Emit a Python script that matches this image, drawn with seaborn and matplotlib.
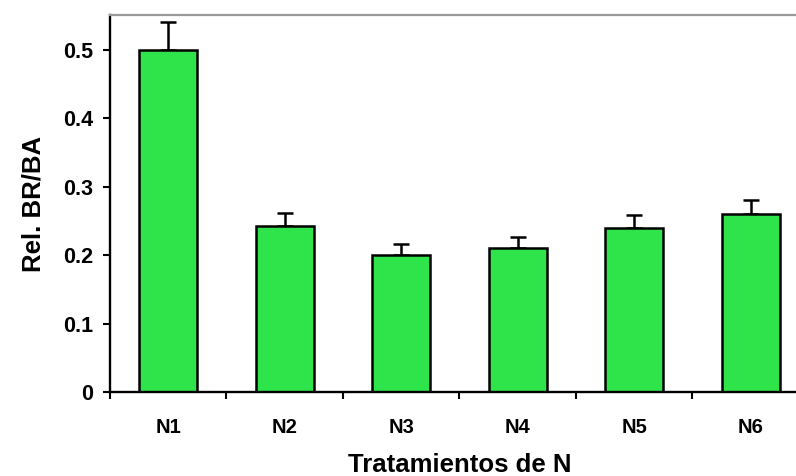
import matplotlib
matplotlib.use("Agg")
import matplotlib.pyplot as plt
import seaborn as sns
import pandas as pd
import numpy as np
from matplotlib.ticker import FixedLocator

# Relación biomasa radical / biomasa aérea por tratamiento de N
tratamientos = ["N1", "N2", "N3", "N4", "N5", "N6"]
rel_br_ba = [0.50, 0.243, 0.200, 0.210, 0.239, 0.260]
error_std = [0.041, 0.019, 0.016, 0.017, 0.020, 0.020]
yticks = [0, 0.1, 0.2, 0.3, 0.4, 0.5]
ytick_labels = ["0", "0.1", "0.2", "0.3", "0.4", "0.5"]

sns.set_theme(style="white")
plt.rcParams["font.family"] = ["Liberation Sans", "DejaVu Sans"]
plt.rcParams["font.weight"] = "bold"

df = pd.DataFrame({"tratamiento": tratamientos, "valor": rel_br_ba})

fig = plt.figure(figsize=(7.96, 4.76), dpi=100)
ax = fig.add_axes([0.1382, 0.1765, 0.878, 0.792])

sns.barplot(data=df, x="tratamiento", y="valor", order=tratamientos,
            color="#2ee44a", saturation=1, width=0.5,
            edgecolor="black", linewidth=1.8, errorbar=None, ax=ax, zorder=2)

pos = np.arange(len(tratamientos))
ax.errorbar(pos, rel_br_ba, yerr=[np.zeros(len(error_std)), error_std],
            fmt="none", ecolor="black", elinewidth=1.8, capsize=5.5,
            capthick=1.8, zorder=1)

ax.set_xlim(-0.5, len(tratamientos) - 0.5)
ax.set_ylim(0, 0.551)
ax.set_yticks(yticks)
ax.set_yticklabels(ytick_labels)

# category labels centred, tick marks on the category boundaries
ax.xaxis.set_minor_locator(FixedLocator(np.arange(-0.5, len(tratamientos), 1.0)))
ax.tick_params(axis="x", which="major", length=0, pad=19, labelsize=14.5)
ax.tick_params(axis="x", which="minor", direction="out", length=5,
               width=1.5, color="black", bottom=True)
ax.tick_params(axis="y", which="major", direction="out", length=5,
               width=1.5, color="black", left=True, pad=7, labelsize=15.5)
for lab in ax.get_xticklabels() + ax.get_yticklabels():
    lab.set_fontweight("bold")
    lab.set_color("black")

ax.set_xlabel("Tratamientos de N", fontsize=18.5, fontweight="bold",
              color="black")
ax.set_ylabel("Rel. BR/BA", fontsize=18.5, fontweight="bold", color="black")
ax.xaxis.set_label_coords(0.5, -0.162)
ax.yaxis.set_label_coords(-0.0916, 0.5)

for side in ["left", "bottom"]:
    ax.spines[side].set_color("black")
    ax.spines[side].set_linewidth(1.7)
ax.spines["top"].set_color("#999999")
ax.spines["top"].set_linewidth(1.6)
ax.spines["right"].set_visible(False)

fig.savefig("out.png", dpi=100)
